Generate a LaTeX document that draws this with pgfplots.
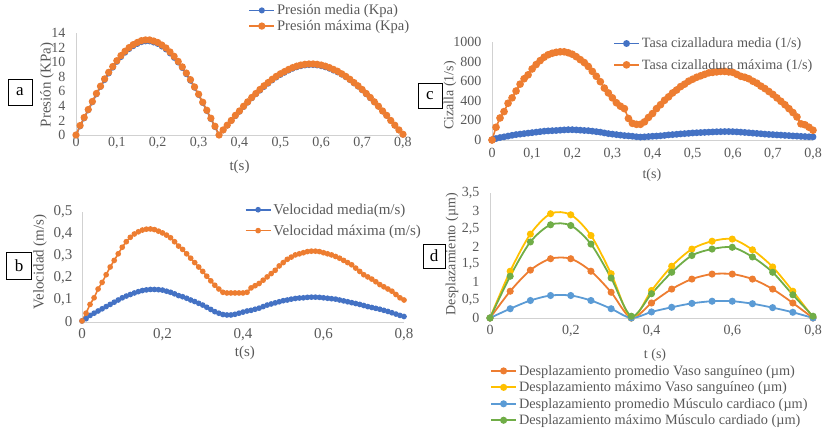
\documentclass[border=0pt]{standalone}
\usepackage{fontspec}
\setmainfont{Liberation Serif}
\usepackage{pgfplots}
\usepackage{pgfplotstable}
\pgfplotsset{compat=1.18}
\definecolor{xlblue}{HTML}{4472C4}
\definecolor{xlorange}{HTML}{ED7D31}
\definecolor{xlyellow}{HTML}{FFC000}
\definecolor{xllblue}{HTML}{5B9BD5}
\definecolor{xlgreen}{HTML}{70AD47}
\definecolor{tickgray}{HTML}{595959}

\pgfplotstableread{
t med max
0.00 0 0
0.01 1.2 1.3
0.02 2.3 2.4
0.03 3.4 3.5
0.04 4.5 4.6
0.05 5.6 5.7
0.06 6.6 6.7
0.07 7.55 7.7
0.08 8.45 8.6
0.09 9.25 9.4
0.10 10.05 10.2
0.11 10.7 10.9
0.12 11.3 11.5
0.13 11.8 12.0
0.14 12.2 12.4
0.15 12.5 12.7
0.16 12.75 12.95
0.17 12.85 13.05
0.18 12.85 13.05
0.19 12.7 12.9
0.20 12.5 12.7
0.21 12.15 12.35
0.22 11.75 11.95
0.23 11.2 11.4
0.24 10.6 10.8
0.25 9.95 10.1
0.26 9.2 9.35
0.27 8.35 8.5
0.28 7.45 7.6
0.29 6.5 6.6
0.30 5.5 5.6
0.31 4.4 4.5
0.32 3.3 3.4
0.33 2.2 2.3
0.34 1.1 1.2
0.35 0 0
0.36 0.65 0.7
0.37 1.3 1.35
0.38 1.95 2.0
0.39 2.6 2.7
0.40 3.2 3.3
0.41 3.85 3.95
0.42 4.45 4.55
0.43 5.05 5.15
0.44 5.6 5.7
0.45 6.1 6.25
0.46 6.6 6.75
0.47 7.05 7.2
0.48 7.5 7.65
0.49 7.9 8.05
0.50 8.25 8.4
0.51 8.55 8.7
0.52 8.85 9.0
0.53 9.1 9.25
0.54 9.3 9.45
0.55 9.45 9.6
0.56 9.55 9.7
0.57 9.6 9.75
0.58 9.6 9.75
0.59 9.55 9.7
0.60 9.45 9.6
0.61 9.3 9.45
0.62 9.1 9.25
0.63 8.85 9.0
0.64 8.6 8.75
0.65 8.3 8.4
0.66 7.95 8.05
0.67 7.55 7.65
0.68 7.1 7.2
0.69 6.65 6.75
0.70 6.15 6.25
0.71 5.6 5.7
0.72 5.05 5.15
0.73 4.5 4.55
0.74 3.9 3.95
0.75 3.25 3.3
0.76 2.65 2.7
0.77 1.95 2.0
0.78 1.3 1.35
0.79 0.65 0.7
0.80 0.05 0.1
}\tabA

\pgfplotstableread{
t med max
0.00 0.005 0.005
0.01 0.015 0.04
0.02 0.03 0.08
0.03 0.04 0.11
0.04 0.05 0.15
0.05 0.06 0.18
0.06 0.07 0.215
0.07 0.08 0.25
0.08 0.09 0.28
0.09 0.10 0.31
0.10 0.11 0.34
0.11 0.118 0.365
0.12 0.125 0.385
0.13 0.132 0.40
0.14 0.138 0.41
0.15 0.143 0.418
0.16 0.146 0.422
0.17 0.148 0.423
0.18 0.148 0.42
0.19 0.147 0.413
0.20 0.145 0.405
0.21 0.14 0.395
0.22 0.135 0.383
0.23 0.128 0.365
0.24 0.12 0.345
0.25 0.115 0.33
0.26 0.108 0.31
0.27 0.10 0.29
0.28 0.093 0.27
0.29 0.085 0.25
0.30 0.077 0.23
0.31 0.067 0.208
0.32 0.057 0.187
0.33 0.047 0.167
0.34 0.04 0.15
0.35 0.034 0.135
0.36 0.032 0.132
0.37 0.032 0.132
0.38 0.035 0.132
0.39 0.04 0.132
0.40 0.045 0.132
0.41 0.05 0.135
0.42 0.053 0.155
0.43 0.058 0.165
0.44 0.063 0.175
0.45 0.07 0.19
0.46 0.077 0.205
0.47 0.082 0.22
0.48 0.087 0.235
0.49 0.092 0.255
0.50 0.097 0.27
0.51 0.10 0.285
0.52 0.104 0.295
0.53 0.107 0.305
0.54 0.109 0.31
0.55 0.11 0.315
0.56 0.112 0.32
0.57 0.113 0.322
0.58 0.113 0.322
0.59 0.112 0.32
0.60 0.11 0.315
0.61 0.108 0.31
0.62 0.106 0.305
0.63 0.104 0.298
0.64 0.10 0.29
0.65 0.096 0.28
0.66 0.092 0.27
0.67 0.088 0.26
0.68 0.084 0.245
0.69 0.08 0.23
0.70 0.075 0.215
0.71 0.07 0.205
0.72 0.066 0.195
0.73 0.062 0.183
0.74 0.058 0.17
0.75 0.053 0.16
0.76 0.048 0.15
0.77 0.042 0.14
0.78 0.036 0.125
0.79 0.03 0.11
0.80 0.025 0.10
}\tabB

\pgfplotstableread{
t med max
0.00 0 0
0.01 15 130
0.02 25 225
0.03 32 290
0.04 40 375
0.05 48 430
0.06 55 500
0.07 60 570
0.08 65 625
0.09 70 665
0.10 75 725
0.11 80 770
0.12 85 810
0.13 90 845
0.14 93 870
0.15 95 885
0.16 97 895
0.17 100 900
0.18 103 900
0.19 105 890
0.20 105 875
0.21 103 850
0.22 100 820
0.23 97 790
0.24 95 750
0.25 90 700
0.26 85 650
0.27 80 595
0.28 72 530
0.29 65 480
0.30 60 430
0.31 55 380
0.32 50 345
0.33 45 320
0.34 42 220
0.35 38 170
0.36 33 160
0.37 30 160
0.38 32 185
0.39 35 230
0.40 38 270
0.41 40 320
0.42 43 360
0.43 47 405
0.44 52 440
0.45 55 480
0.46 58 510
0.47 62 545
0.48 65 570
0.49 68 600
0.50 72 620
0.51 74 640
0.52 76 655
0.53 78 670
0.54 80 685
0.55 82 690
0.56 84 695
0.57 85 700
0.58 86 700
0.59 86 695
0.60 85 690
0.61 83 670
0.62 80 650
0.63 77 640
0.64 74 625
0.65 70 600
0.66 67 580
0.67 64 550
0.68 60 525
0.69 57 495
0.70 55 465
0.71 52 430
0.72 50 395
0.73 47 360
0.74 45 320
0.75 42 280
0.76 40 235
0.77 37 165
0.78 35 155
0.79 33 130
0.80 32 100
}\tabC

\pgfplotstableread{
t pv mv pm mm
0.00 0 0 0 0
0.05 0.75 1.31 0.26 1.17
0.10 1.34 2.35 0.49 2.13
0.15 1.66 2.92 0.63 2.61
0.20 1.66 2.89 0.63 2.59
0.25 1.31 2.31 0.49 2.07
0.30 0.72 1.24 0.26 1.12
0.35 0 0 0 0.05
0.40 0.42 0.77 0.17 0.68
0.45 0.81 1.45 0.30 1.28
0.50 1.09 1.93 0.41 1.75
0.55 1.23 2.15 0.47 1.93
0.60 1.23 2.21 0.47 1.98
0.65 1.09 1.91 0.40 1.71
0.70 0.81 1.43 0.29 1.28
0.75 0.42 0.75 0.16 0.65
0.80 0 0.02 0 0.05
}\tabD

\pgfplotsset{
  legend image code/.code={\draw[mark repeat=2,mark phase=2,#1] plot coordinates {(0pt,0pt) (12.5pt,0pt) (25pt,0pt)};},
  panel/.style={
    scale only axis, anchor=south west,
    axis x line*=bottom, axis y line*=left,
    axis line style={draw=black!18, line width=0.8pt},
    major tick length=0pt,
    tick label style={text=tickgray},
    label style={text=tickgray},
    /pgf/number format/assume math mode=true,
    /pgf/number format/use comma,
    /pgf/number format/1000 sep={},
    clip=false,
    legend cell align=left,
    legend style={draw=none, fill=none, inner sep=0pt, anchor=north west, text=tickgray},
  },
}

\begin{document}
\begin{tikzpicture}[x=1pt,y=1pt]
\useasboundingbox (0,0) rectangle (826,429);

% ---------- panel a ----------
\begin{axis}[panel, at={(76pt,294pt)}, width=327pt, height=102pt,
  xmin=0, xmax=0.8, ymin=0, ymax=14,
  xtick={0,0.1,0.2,0.3,0.4,0.5,0.6,0.7,0.8},
  ytick={0,2,4,6,8,10,12,14},
  tick label style={font=\fontsize{14}{14}\selectfont},
  yticklabel style={xshift=-7pt},
  xticklabel style={yshift=1pt},
  xlabel={t(s)}, ylabel={Presión (KPa)},
  label style={font=\fontsize{15}{15}\selectfont},
  xlabel style={at={(axis description cs:0.5,-0.314)}, anchor=center},
  ylabel style={at={(axis description cs:-0.089,0.49)}, anchor=center},
  legend style={at={(axis description cs:0.527,1.30)}, font=\fontsize{14.6}{14.6}\selectfont, row sep=0pt},
]
\addplot[xlblue, line width=1.6pt, mark=*, mark size=2.2pt] table[x=t,y=med] {\tabA};
\addlegendentry{Presión media (Kpa)}
\addplot[xlorange, line width=1.6pt, mark=*, mark size=2.8pt] table[x=t,y=max] {\tabA};
\addlegendentry{Presión máxima (Kpa)}
\end{axis}

% ---------- panel b ----------
\begin{axis}[panel, at={(82pt,107pt)}, width=322pt, height=110pt,
  xmin=0, xmax=0.8, ymin=0, ymax=0.5,
  xtick={0,0.2,0.4,0.6,0.8},
  ytick={0,0.1,0.2,0.3,0.4,0.5},
  tick label style={font=\fontsize{15}{15}\selectfont},
  yticklabel style={xshift=-6pt},
  xticklabel style={yshift=-3pt},
  xlabel={t(s)}, ylabel={Velocidad (m/s)},
  label style={font=\fontsize{15}{15}\selectfont},
  xlabel style={at={(axis description cs:0.506,-0.285)}, anchor=center},
  ylabel style={at={(axis description cs:-0.130,0.545)}, anchor=center},
  legend style={at={(axis description cs:0.505,1.095)}, font=\fontsize{15}{15}\selectfont, row sep=5pt},
]
\addplot[xlblue, line width=1.6pt, mark=*, mark size=2pt] table[x=t,y=med] {\tabB};
\addlegendentry{Velocidad media(m/s)}
\addplot[xlorange, line width=1.6pt, mark=*, mark size=2pt] table[x=t,y=max] {\tabB};
\addlegendentry{Velocidad máxima (m/s)}
\end{axis}

% ---------- panel c ----------
\begin{axis}[panel, at={(492pt,289pt)}, width=321pt, height=98pt,
  xmin=0, xmax=0.8, ymin=0, ymax=1000,
  xtick={0,0.1,0.2,0.3,0.4,0.5,0.6,0.7,0.8},
  ytick={0,200,400,600,800,1000},
  tick label style={font=\fontsize{14}{14}\selectfont},
  yticklabel style={xshift=-7pt},
  xticklabel style={yshift=-5pt},
  xlabel={t(s)}, ylabel={Cizalla (1/s)},
  label style={font=\fontsize{14}{14}\selectfont},
  xlabel style={at={(axis description cs:0.498,-0.357)}, anchor=center},
  ylabel style={at={(axis description cs:-0.131,0.454)}, anchor=center},
  legend style={at={(axis description cs:0.377,1.065)}, font=\fontsize{14.2}{14.2}\selectfont, row sep=6pt},
]
\addplot[xlblue, line width=1.6pt, mark=*, mark size=2.6pt] table[x=t,y=med] {\tabC};
\addlegendentry{Tasa cizalladura media (1/s)}
\addplot[xlorange, line width=1.6pt, mark=*, mark size=3pt] table[x=t,y=max] {\tabC};
\addlegendentry{Tasa cizalladura máxima (1/s)}
\end{axis}

% ---------- panel d ----------
\begin{axis}[panel, at={(490pt,111pt)}, width=323pt, height=125pt,
  xmin=0, xmax=0.8, ymin=0, ymax=3.5,
  xtick={0,0.2,0.4,0.6,0.8},
  ytick={0,0.5,1,1.5,2,2.5,3,3.5},
  tick label style={font=\fontsize{14}{14}\selectfont},
  yticklabel style={xshift=-7pt},
  xticklabel style={yshift=-4pt},
  xlabel={t (s)}, ylabel={Desplazamiento (µm)},
  label style={font=\fontsize{14}{14}\selectfont},
  xlabel style={at={(axis description cs:0.511,-0.296)}, anchor=center},
  ylabel style={at={(axis description cs:-0.118,0.51)}, anchor=center},
  legend style={at={(axis description cs:0.0,-0.36)}, font=\fontsize{14.3}{14.3}\selectfont, row sep=1pt},
]
\addplot[xlorange, line width=1.8pt, smooth, tension=0.5, mark=*, mark size=2.6pt] table[x=t,y=pv] {\tabD};
\addlegendentry{Desplazamiento promedio Vaso sanguíneo (µm)}
\addplot[xlyellow, line width=1.8pt, smooth, tension=0.5, mark=*, mark size=2.6pt] table[x=t,y=mv] {\tabD};
\addlegendentry{Desplazamiento máximo Vaso sanguíneo (µm)}
\addplot[xllblue, line width=1.8pt, smooth, tension=0.5, mark=*, mark size=2.6pt] table[x=t,y=pm] {\tabD};
\addlegendentry{Desplazamiento promedio Músculo cardiaco (µm)}
\addplot[xlgreen, line width=1.8pt, smooth, tension=0.5, mark=*, mark size=2.6pt] table[x=t,y=mm] {\tabD};
\addlegendentry{Desplazamiento máximo Músculo cardiado (µm)}
\end{axis}

% ---------- panel letters ----------
\node[draw=black, line width=0.7pt, minimum width=24pt, minimum height=26pt, inner sep=0pt, font=\fontsize{17}{17}\selectfont] at (20,337) {a};
\node[draw=black, line width=0.7pt, minimum width=25pt, minimum height=27pt, inner sep=0pt, font=\fontsize{17}{17}\selectfont] at (19,163) {b};
\node[draw=black, line width=0.7pt, minimum width=24pt, minimum height=25pt, inner sep=0pt, font=\fontsize{17}{17}\selectfont] at (430,333.5) {c};
\node[draw=black, line width=0.7pt, minimum width=22pt, minimum height=24pt, inner sep=0pt, font=\fontsize{17}{17}\selectfont] at (434,173) {d};
\end{tikzpicture}
\end{document}
